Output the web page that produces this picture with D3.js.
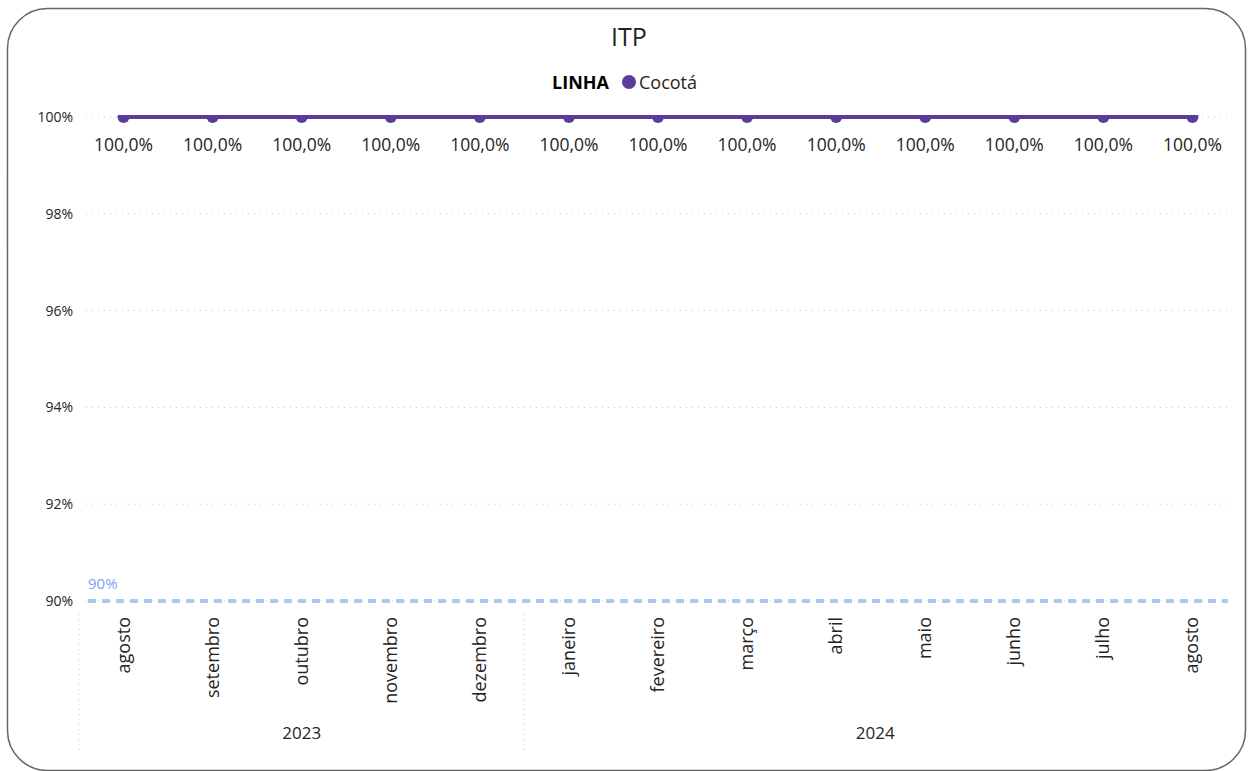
<!DOCTYPE html>
<html>
<head>
<meta charset="utf-8">
<title>ITP</title>
<script src="https://cdn.jsdelivr.net/npm/d3@7"></script>
<style>
  body { margin: 0; background: #fff; }
  text { font-family: "Open Sans", "Noto Sans", sans-serif; fill: #252423; }
</style>
</head>
<body>
<svg width="1248" height="771"></svg>
<script>
var months = ["agosto", "setembro", "outubro", "novembro", "dezembro", "janeiro", "fevereiro", "março", "abril", "maio", "junho", "julho", "agosto"];
var years = ["2023", "2023", "2023", "2023", "2023", "2024", "2024", "2024", "2024", "2024", "2024", "2024", "2024"];
var itp = [1, 1, 1, 1, 1, 1, 1, 1, 1, 1, 1, 1, 1];
var yTicks = [0.90, 0.92, 0.94, 0.96, 0.98, 1.00];
var meta = 0.90;

var svg = d3.select("svg");
var pLeft = 79, pRight = 1237, pTop = 117, pBottom = 601;

// moldura
svg.append("rect")
  .attr("x", 7.5).attr("y", 8.5)
  .attr("width", 1238).attr("height", 762)
  .attr("rx", 40).attr("ry", 40)
  .attr("fill", "#fff").attr("stroke", "#666").attr("stroke-width", 1.5);

svg.append("text").attr("x", 629).attr("y", 46)
  .attr("text-anchor", "middle").style("font-size", "25px").style("fill", "#252423")
  .text("ITP");

// legenda
var lg = svg.append("g");
lg.append("text").attr("x", 609).attr("y", 89).attr("text-anchor", "end")
  .style("font-size", "18px").style("font-weight", "bold").style("fill", "#000").text("LINHA");
lg.append("circle").attr("cx", 629).attr("cy", 82).attr("r", 7).attr("fill", "#5B3D99");
lg.append("text").attr("x", 639).attr("y", 89)
  .style("font-size", "18px").text("Cocotá");

var idx = months.map(function(d, i) { return i; });
var x = d3.scaleBand().domain(idx).range([pLeft, pRight]);
var y = d3.scaleLinear().domain([0.9, 1.0]).range([pBottom, pTop]);

// grade
svg.append("g").selectAll("line").data(yTicks).enter().append("line")
  .attr("x1", 86).attr("x2", 1228)
  .attr("y1", function(d) { return y(d); }).attr("y2", function(d) { return y(d); })
  .attr("stroke", "#c8c8c8").attr("stroke-dasharray", "1,5");

var yAxis = svg.append("g").attr("transform", "translate(" + (pLeft - 6) + ",0)")
  .call(d3.axisLeft(y).tickValues(yTicks).tickSize(0).tickPadding(0)
    .tickFormat(function(d) { return d3.format(".0%")(d); }));
yAxis.select(".domain").remove();
yAxis.selectAll("text").style("font-size", "14px").style("fill", "#252423")
  .style("font-family", "'Open Sans', sans-serif");

// meta 90%
svg.append("line").attr("x1", 88).attr("x2", 1228)
  .attr("y1", y(meta)).attr("y2", y(meta))
  .attr("stroke", "#a9c8f5").attr("stroke-width", 4).attr("stroke-dasharray", "8,6");
svg.append("text").attr("x", 88).attr("y", y(meta) - 12)
  .style("font-size", "15px").style("fill", "#7f9ff0").text("90%");

// linha
svg.append("clipPath").attr("id", "plot").append("rect")
  .attr("x", pLeft).attr("y", pTop - 2).attr("width", pRight - pLeft).attr("height", pBottom - pTop + 2);
var cx = function(i) { return x(i) + x.bandwidth() / 2; };
var plot = svg.append("g").attr("clip-path", "url(#plot)");
plot.append("path").datum(itp)
  .attr("fill", "none").attr("stroke", "#5B3D99").attr("stroke-width", 4)
  .attr("d", d3.line().x(function(d, i) { return cx(i); }).y(function(d) { return y(d); }));
plot.selectAll("circle").data(itp).enter().append("circle")
  .attr("cx", function(d, i) { return cx(i); }).attr("cy", function(d) { return y(d); })
  .attr("r", 6).attr("fill", "#5B3D99");

svg.append("g").selectAll("text").data(itp).enter().append("text")
  .attr("x", function(d, i) { return cx(i); }).attr("y", function(d) { return y(d) + 34; })
  .attr("text-anchor", "middle").style("font-size", "17.5px")
  .text(function(d) { return d3.format(".1f")(d * 100).replace(".", ",") + "%"; });

// eixo x - meses
svg.append("g").selectAll("text").data(months).enter().append("text")
  .attr("transform", function(d, i) { return "translate(" + (cx(i) + 6) + ",617) rotate(-90)"; })
  .attr("text-anchor", "end").style("font-size", "18px")
  .text(function(d) { return d; });

// anos
var yearNames = Array.from(new Set(years));
var bounds = yearNames.map(function(yr) {
  var ii = idx.filter(function(i) { return years[i] === yr; });
  return { year: yr, x0: x(ii[0]), x1: x(ii[ii.length - 1]) + x.bandwidth() };
});
bounds[bounds.length - 1].x1 = 1226;
svg.append("g").selectAll("line").data(bounds).enter().append("line")
  .attr("x1", function(d) { return d.x0; }).attr("x2", function(d) { return d.x0; })
  .attr("y1", 614).attr("y2", 750)
  .attr("stroke", "#c8c8c8").attr("stroke-dasharray", "1,4");
svg.append("g").selectAll("text").data(bounds).enter().append("text")
  .attr("x", function(d) { return (d.x0 + d.x1) / 2; }).attr("y", 739)
  .attr("text-anchor", "middle").style("font-size", "17px")
  .text(function(d) { return d.year; });
</script>
</body>
</html>
